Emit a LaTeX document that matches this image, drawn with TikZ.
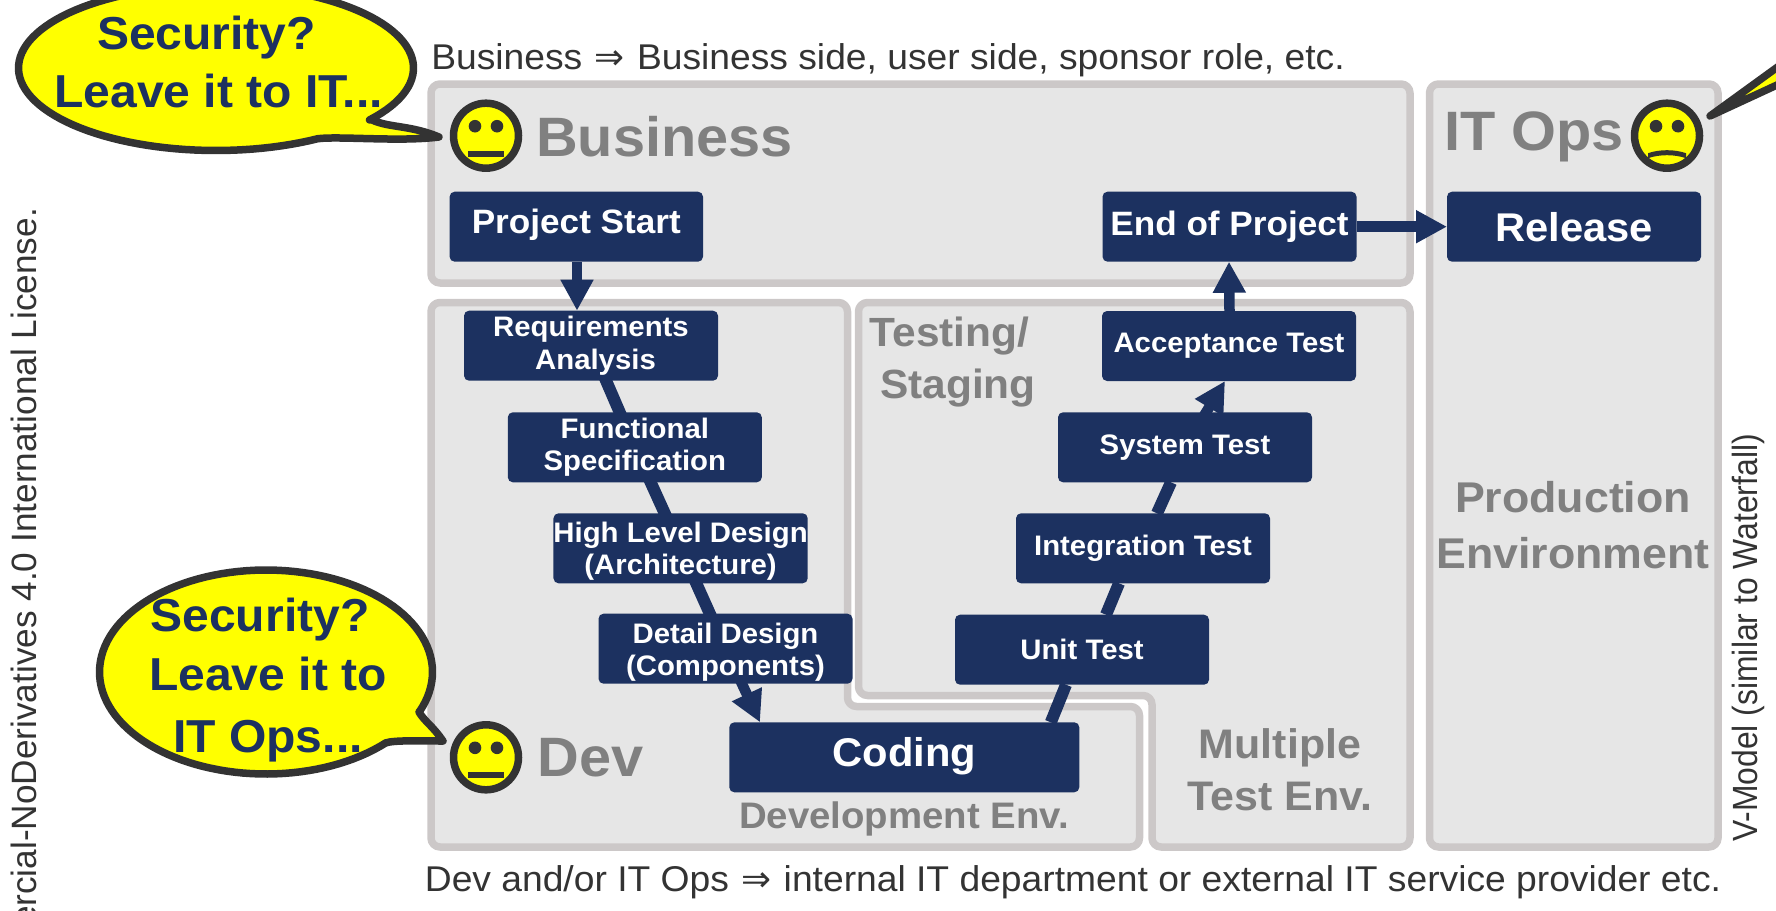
\documentclass[tikz,border=0pt]{standalone}
\usepackage{fontspec}
\usepackage{array}
\setmainfont{Liberation Sans}[FakeStretch=1.04]
\newfontfamily\rotfont{Liberation Sans}[FakeStretch=0.91]
\newfontfamily\licfont{Liberation Sans}
\newfontfamily\arrowfont{DejaVu Sans}
\usetikzlibrary{arrows.meta}
\pgfdeclarelayer{panels}
\pgfdeclarelayer{links}
\pgfsetlayers{panels,links,main}
\definecolor{navy}{HTML}{1C3160}
\definecolor{band}{HTML}{CCC8C8}
\definecolor{pane}{HTML}{E6E6E6}
\definecolor{ink}{HTML}{333333}
\definecolor{label}{HTML}{808080}
\definecolor{sun}{HTML}{FFFF00}
% text whose first baseline lies #1 under the node centre
\newcommand{\bl}[2][0pt]{\smash{\raisebox{-#1}{\begin{tabular}[t]{@{}c@{}}#2\end{tabular}}}}
\newcommand{\fsz}[2]{\fontsize{#1}{#2}\selectfont}
\newcommand{\implies}{{\arrowfont\hspace{2pt}⇒\hspace{2pt}}}
\tikzset{
  x=1pt,y=-1pt,
  panel/.style={draw=band,fill=pane,line width=7.5pt,rounded corners=9pt,line join=round},
  panelbox/.style={panel,rectangle,inner sep=0pt,outer sep=0pt},
  stepbox/.style={rectangle,fill=navy,text=white,rounded corners=5pt,minimum width=254pt,minimum height=70pt,inner sep=0pt,outer sep=0pt,font=\bfseries\fsz{28.2}{32.6}},
  bigbox/.style={stepbox,font=\bfseries\fsz{40.1}{42}},
  midbox/.style={stepbox,font=\bfseries\fsz{33.8}{36}},
  link/.style={draw=navy,line width=12pt},
  arrowlink/.style={draw=navy,line width=10.5pt,-{Triangle[length=31pt,width=31pt]}},
  heading/.style={text=label,inner sep=0pt,font=\bfseries\fsz{55.5}{58}},
  envlabel/.style={text=label,inner sep=0pt,font=\bfseries\fsz{40.8}{52}},
  note/.style={text=ink,inner sep=0pt,font=\fsz{35.8}{38}},
  sidenote/.style={text=ink,inner sep=0pt,rotate=90,font=\rotfont\fsz{35}{38}},
  licnote/.style={text=ink,inner sep=0pt,rotate=90,font=\licfont\fsz{35.2}{38}},
  speech/.style={fill=sun,draw=ink,line width=7.5pt,line join=round},
  speechtext/.style={text=navy,inner sep=0pt,font=\bfseries\fsz{46.2}{58}},
  face/.style={circle,fill=sun,draw=ink,line width=7.5pt,minimum size=65pt,inner sep=0pt,outer sep=0pt},
  eye/.style={circle,fill=ink,minimum size=12.6pt,inner sep=0pt,outer sep=0pt},
}
\newcommand{\smiley}[3]{%
  \node[face] (#1) at (#2,#3) {};
  \node[eye] (#1l) at ([shift={(-11,-9.5)}]#1.center) {};
  \node[eye] (#1r) at ([shift={(11,-9.5)}]#1.center) {};
}
\begin{document}
\begin{tikzpicture}
\useasboundingbox (0,0) rectangle (1776,910);
\begin{pgfonlayer}{panels}
  \node[panelbox,minimum width=979pt,minimum height=199pt] (bizpanel) at (920.5,183.5) {};
  \node[panelbox,minimum width=288.5pt,minimum height=763pt] (opspanel) at (1573.75,465.5) {};
  \draw[panel] (431,302.5) -- (847.5,302.5) -- (847.5,706.5) -- (1139.5,706.5) -- (1139.5,847) -- (431,847) -- cycle;
  \draw[panel] (858.5,302.5) -- (1410,302.5) -- (1410,847) -- (1152,847) -- (1152,695.5) -- (858.5,695.5) -- cycle;
\end{pgfonlayer}

% boxes
\node[midbox,minimum width=253.4pt] (start) at (576.3,226.7) {\bl[6.8pt]{Project Start}};
\node[stepbox] (req) at (591,345.7) {\bl[-9pt]{Requirements\\\hspace*{9pt}Analysis}};
\node[stepbox] (func) at (634.8,447.3) {\bl[-9pt]{Functional\\Specification}};
\node[stepbox] (high) at (680.6,548.3) {\bl[-6pt]{High Level Design\\(Architecture)}};
\node[stepbox] (detail) at (725.5,648.7) {\bl[-5.4pt]{Detail Design\\(Components)}};
\node[bigbox,minimum width=350pt] (coding) at (904.3,757.3) {\bl[9.4pt]{Coding}};
\node[stepbox] (unit) at (1082,649.7) {\bl[9.3pt]{Unit Test}};
\node[stepbox] (integ) at (1143,548.3) {\bl[7.4pt]{Integration Test}};
\node[stepbox] (system) at (1185,447.3) {\bl[7.2pt]{System Test}};
\node[stepbox] (accept) at (1229,346) {\bl[6.7pt]{Acceptance Test}};
\node[midbox] (end) at (1229.5,226.7) {\bl[8.3pt]{End of Project}};
\node[bigbox] (release) at (1574,226.7) {\bl[14.3pt]{Release}};

% connectors
\begin{pgfonlayer}{links}
  \draw[arrowlink] ([xshift=127.4pt]start.south west) -- ([xshift=113pt]req.north west);
  \draw[link] (req.center) -- (func.center);
  \draw[link] (func.center) -- (high.center);
  \draw[link] (high.center) -- (detail.center);
  \draw[arrowlink] (detail.center) -- ([xshift=30.7pt]coding.north west);
  \draw[link] ([xshift=321.5pt]coding.north west) -- ([xshift=111pt]unit.south west);
  \draw[link] ([xshift=151pt]unit.north west) -- ([xshift=103pt]integ.south west);
  \draw[link] ([xshift=141pt]integ.north west) -- ([xshift=113pt]system.south west);
  \draw[arrowlink] (system.center) -- ([xshift=123pt]accept.south west);
  \draw[arrowlink] ([xshift=127.5pt]accept.north west) -- ([xshift=126.5pt]end.south west);
  \draw[arrowlink] (end.east) -- (release.west);
\end{pgfonlayer}

% panel labels
\node[heading] (bizlabel) at (664.5,156) {\bl{Business}};
\node[heading] (opslabel) at (1534,150) {\bl{IT Ops}};
\node[heading] (devlabel) at (590.5,776) {\bl{Dev}};
\node[envlabel] (testlabel) at (958,346.7) {\bl{Testing/\hspace*{17pt}\\Staging}};
\node[envlabel,font=\bfseries\fsz{41.3}{52.4}] (multilabel) at (1280,758.3) {\bl{Multiple\\Test Env.}};
\node[envlabel,font=\bfseries\fsz{43}{56}] (prodlabel) at (1573,512.3) {\bl{Production\\Environment}};
\node[envlabel,font=\bfseries\fsz{36.9}{40}] (devenv) at (904,828.3) {\bl{Development Env.}};

% notes
\node[note] (topnote) at (888,69.3) {\bl{Business \implies{} Business side, user side, sponsor role, etc.}};
\node[note] (botnote) at (1073,891.7) {\bl{Dev and/or IT Ops \implies{} internal IT department or external IT service provider etc.}};
\node[licnote,anchor=base east] (lic) at (36.8,207.7) {NonCommercial-NoDerivatives 4.0 International License.};
\node[sidenote,anchor=base west] (vmodel) at (1757,842) {V-Model (similar to Waterfall)};

% speech bubbles
\draw[speech] (439,137) .. controls (410,125) and (390,128) .. (372,120)
  -- plot[domain=399:59,samples=120] ({216+197.5*cos(\x)},{68+82.5*sin(\x)})
  .. controls (340,136) and (400,142) .. (439,137) -- cycle;
\draw[speech] (443,741) .. controls (432,725) and (425,722) .. (419,712)
  -- plot[domain=382.5:44,samples=120] ({266+166.5*cos(\x)},{672+102*sin(\x)})
  .. controls (395,740) and (420,741) .. (443,741) -- cycle;
\draw[speech] (1710,116) -- (1790,58) -- (1790,79) -- cycle;
\node[speechtext] (say1) at (218.5,49.3) {\bl{Security?\hspace*{24pt}\\Leave it to IT...}};
\node[speechtext] (say2) at (268,631) {\bl{Security?\kern16pt\\[1pt]Leave it to\\[4pt]IT Ops...}};

% faces
\smiley{bizface}{486}{135.7}
\fill[ink] ([shift={(-18.3,15)}]bizface.center) rectangle ([shift={(18,21)}]bizface.center);
\smiley{devface}{486}{757.3}
\fill[ink] ([shift={(-18.3,15)}]devface.center) rectangle ([shift={(18,21)}]devface.center);
\smiley{opsface}{1667}{135.7}
\fill[ink] ([shift={(-19,17.5)}]opsface.center) .. controls ([shift={(-8,13.5)}]opsface.center) and ([shift={(8,13.5)}]opsface.center) .. ([shift={(19,17.5)}]opsface.center) -- ([shift={(19,22.5)}]opsface.center) .. controls ([shift={(8,18.5)}]opsface.center) and ([shift={(-8,18.5)}]opsface.center) .. ([shift={(-19,22.5)}]opsface.center) -- cycle;
\end{tikzpicture}
\end{document}
